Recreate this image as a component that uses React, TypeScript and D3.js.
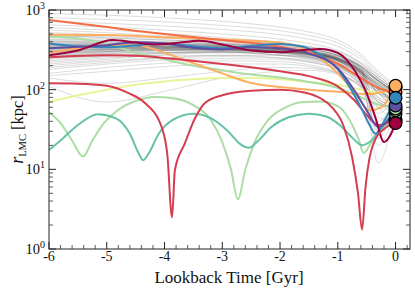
import * as d3 from "d3";
import React from "react";

// grey orbits sampled at these lookback times
const greyT = [-6, -5, -4, -3, -2, -1.5, -1, -0.6, -0.3, 0];
const greyR: number[][] = [
  [480, 450, 420, 390, 350, 320, 270, 200, 140, 95],
  [420, 410, 390, 360, 320, 290, 240, 180, 130, 90],
  [380, 370, 360, 340, 300, 270, 220, 160, 115, 85],
  [350, 360, 350, 330, 300, 275, 230, 170, 120, 88],
  [320, 340, 340, 320, 290, 260, 215, 155, 110, 80],
  [300, 320, 330, 320, 300, 270, 225, 165, 115, 82],
  [280, 300, 320, 320, 290, 255, 200, 140, 95, 75],
  [260, 290, 310, 300, 270, 240, 190, 130, 90, 72],
  [240, 270, 290, 290, 270, 245, 200, 145, 100, 78],
  [220, 250, 270, 270, 250, 225, 180, 120, 80, 70],
  [200, 230, 250, 260, 250, 230, 190, 135, 95, 75],
  [180, 210, 235, 245, 240, 220, 180, 120, 75, 65],
  [160, 190, 215, 230, 225, 205, 165, 110, 70, 60],
  [150, 170, 195, 210, 210, 195, 160, 105, 60, 55],
  [520, 490, 450, 410, 360, 325, 270, 195, 130, 92],
  [560, 520, 470, 420, 370, 330, 270, 190, 125, 90],
  [600, 560, 510, 450, 390, 345, 280, 200, 130, 95],
  [650, 610, 560, 500, 430, 380, 310, 215, 140, 100],
  [720, 680, 630, 570, 490, 430, 350, 240, 150, 105],
  [800, 760, 710, 640, 550, 480, 385, 260, 160, 110],
  [900, 860, 800, 720, 610, 530, 420, 280, 170, 115],
  [450, 440, 420, 400, 370, 340, 290, 210, 140, 95],
  [400, 400, 395, 380, 350, 320, 270, 195, 130, 90],
  [360, 380, 390, 375, 340, 305, 250, 175, 115, 85],
  [340, 350, 370, 365, 335, 300, 245, 170, 110, 80],
  [310, 330, 350, 350, 325, 295, 240, 165, 100, 70],
  [290, 315, 340, 345, 320, 290, 235, 160, 90, 60],
  [270, 300, 330, 340, 320, 290, 240, 170, 105, 72],
  [250, 280, 310, 325, 315, 290, 240, 170, 100, 68],
  [230, 260, 290, 310, 305, 280, 230, 160, 90, 62],
  [330, 345, 355, 345, 315, 285, 230, 150, 80, 50],
  [370, 365, 360, 350, 320, 290, 230, 140, 60, 45],
  [300, 310, 320, 315, 290, 260, 200, 120, 45, 40],
  [270, 285, 295, 295, 275, 250, 195, 110, 35, 55],
  [400, 385, 370, 355, 330, 300, 245, 160, 70, 60],
  [430, 420, 400, 375, 340, 305, 250, 170, 90, 75],
  [190, 220, 250, 270, 270, 255, 215, 150, 95, 70],
  [210, 240, 275, 295, 295, 275, 230, 160, 100, 75],
  [140, 120, 140, 170, 190, 185, 160, 115, 75, 60],
  [110, 70, 95, 140, 170, 175, 155, 110, 70, 58],
  [340, 350, 345, 330, 310, 290, 250, 180, 25, 70],
  [310, 320, 325, 315, 300, 280, 240, 160, 12, 65],
  [360, 355, 345, 330, 305, 280, 235, 150, 30, 80],
  [285, 300, 310, 305, 290, 265, 215, 130, 20, 60],
  [390, 380, 370, 355, 330, 305, 260, 190, 130, 92],
  [345, 340, 335, 325, 305, 285, 245, 180, 125, 90],
  [330, 335, 340, 335, 315, 290, 245, 175, 118, 86],
  [375, 375, 370, 355, 325, 300, 255, 185, 128, 94],
  [315, 320, 325, 320, 305, 285, 245, 178, 120, 88],
  [295, 305, 315, 315, 300, 280, 235, 165, 110, 84],
  [410, 395, 380, 365, 335, 310, 265, 195, 135, 96],
  [355, 350, 345, 340, 320, 300, 260, 190, 50, 85],
  [325, 330, 330, 325, 310, 290, 250, 175, 40, 75],
  [470, 460, 440, 415, 380, 350, 300, 220, 150, 100],
  [250, 265, 285, 300, 295, 275, 235, 170, 110, 80],
];

// coloured orbits: [lookback time, r]
const lineTomato: [number, number][] = [
  [-6, 750], [-5, 610], [-4.43, 540], [-4, 500], [-3, 420], [-2, 345], [-1.5, 290], [-1, 210],
  [-0.6, 140], [-0.3, 105], [0, 92],
];
const lineOrangeTop: [number, number][] = [
  [-6, 490], [-5, 485], [-4, 455], [-3, 425], [-2, 390], [-1.5, 300], [-1, 160], [-0.7, 90],
  [-0.45, 55], [-0.25, 60], [0, 112],
];
const lineOrangeDown: [number, number][] = [
  [-6, 290], [-5.5, 330], [-5, 360], [-4.5, 370], [-4.25, 334], [-4, 290], [-3.5, 215],
  [-3, 160], [-2.5, 121], [-2, 108], [-1.5, 100], [-1, 94], [-0.5, 88], [-0.2, 95], [0, 108],
];
const lineYellow: [number, number][] = [
  [-6, 70], [-5.5, 85], [-5, 100], [-4.5, 115], [-4, 127], [-3.5, 135], [-3, 140], [-2.5, 140],
  [-2, 135], [-1.5, 125], [-1, 115], [-0.6, 100], [-0.3, 92], [0, 105],
];
const lineGreenBundle: [number, number][] = [
  [-6, 460], [-5.5, 440], [-5, 380], [-4.5, 290], [-4, 240], [-3.5, 200], [-3, 175],
  [-2.5, 155], [-2, 142], [-1.5, 125], [-1, 105], [-0.6, 80], [-0.3, 65], [0, 58],
];
const lineGreenOsc: [number, number][] = [
  [-6, 52], [-5.8, 38], [-5.6, 23], [-5.41, 14.5], [-5.25, 23], [-5.05, 38], [-4.8, 56],
  [-4.5, 72], [-4.17, 81], [-3.85, 78], [-3.5, 64], [-3.2, 42], [-3.0, 22], [-2.85, 10],
  [-2.73, 4.2], [-2.6, 10], [-2.45, 21], [-2.2, 42], [-1.9, 60], [-1.6, 70], [-1.3, 71],
  [-1.0, 62], [-0.8, 42], [-0.65, 25], [-0.55, 16], [-0.45, 20], [-0.3, 30], [-0.15, 42], [0, 55],
];
const lineTeal: [number, number][] = [
  [-6, 17.5], [-5.8, 23], [-5.5, 36], [-5.15, 49], [-4.85, 44], [-4.6, 28], [-4.45, 16],
  [-4.37, 13], [-4.27, 16], [-4.1, 28], [-3.85, 42], [-3.5, 50], [-3.2, 44], [-2.9, 30],
  [-2.7, 21], [-2.54, 18.6], [-2.4, 22], [-2.15, 34], [-1.85, 45], [-1.5, 50], [-1.2, 46],
  [-0.95, 35], [-0.75, 25], [-0.58, 20], [-0.45, 22], [-0.25, 32], [0, 50],
];
const lineCrimson: [number, number][] = [
  [-6, 120], [-5.5, 119], [-5, 112], [-4.63, 91], [-4.34, 68], [-4.05, 34], [-3.95, 15],
  [-3.87, 2.5], [-3.82, 9.8], [-3.65, 21], [-3.47, 44], [-3.3, 68], [-3, 85], [-2.5, 97],
  [-2, 100], [-1.6, 93], [-1.3, 78], [-1.1, 60], [-0.9, 35], [-0.75, 14], [-0.65, 5],
  [-0.58, 1.75], [-0.52, 6], [-0.45, 14], [-0.35, 24], [-0.2, 32], [0, 40],
];
const lineRed: [number, number][] = [
  [-6, 255], [-5, 270], [-4.4, 265], [-4, 250], [-3, 210], [-2, 170], [-1.5, 148], [-1, 110],
  [-0.7, 72], [-0.5, 48], [-0.3, 36], [0, 42],
];
const lineBlue: [number, number][] = [
  [-6, 380], [-5.5, 350], [-5, 340], [-4.5, 360], [-4, 380], [-3.5, 350], [-3, 330],
  [-2.5, 355], [-2, 375], [-1.6, 345], [-1.3, 270], [-1, 180], [-0.8, 110], [-0.6, 60],
  [-0.45, 36], [-0.35, 28], [-0.2, 40], [0, 79],
];
const linePurple: [number, number][] = [
  [-6, 330], [-5.5, 345], [-5, 360], [-4.5, 395], [-4, 380], [-3.5, 335], [-3, 320],
  [-2.5, 340], [-2, 330], [-1.5, 285], [-1, 185], [-0.7, 95], [-0.5, 55], [-0.3, 34],
  [-0.15, 40], [0, 63],
];
const lineMagenta: [number, number][] = [
  [-6, 270], [-5.5, 310], [-4.9, 420], [-4.5, 390], [-4.2, 370], [-3.8, 385], [-3.4, 410],
  [-3, 370], [-2.5, 310], [-2, 295], [-1.6, 315], [-1.3, 325], [-1, 290], [-0.7, 170],
  [-0.5, 90], [-0.35, 45], [-0.2, 22], [-0.1, 26], [0, 38],
];

const colouredLines = [
  { pts: lineYellow, color: "#e6f598" },
  { pts: lineGreenBundle, color: "#abdda4" },
  { pts: lineGreenOsc, color: "#abdda4" },
  { pts: lineTeal, color: "#66c2a5" },
  { pts: lineOrangeDown, color: "#fdae61" },
  { pts: lineOrangeTop, color: "#fdae61" },
  { pts: lineTomato, color: "#f46d43" },
  { pts: lineRed, color: "#d53e4f" },
  { pts: lineBlue, color: "#3288bd" },
  { pts: linePurple, color: "#5e4fa2" },
  { pts: lineMagenta, color: "#9e0142" },
  { pts: lineCrimson, color: "#d53e4f" },
];

// order in which the present-day markers are stacked
const markerOrder = [4, 0, 6, 5, 7, 11, 3, 2, 1, 9, 8, 10];

const xMajor = [-6, -5, -4, -3, -2, -1, 0];
const xLabels = ["-6", "-5", "-4", "-3", "-2", "-1", "0"];
const yMajor = [1, 10, 100, 1000];
const yExp = ["0", "1", "2", "3"];

const W = 415, H = 290;
const left = 49, right = 410, top = 10, bottom = 249;
const font = "'Liberation Serif', 'DejaVu Serif', serif";

export default function App() {
  const x = d3.scaleLinear().domain([-6, 0.25]).range([left, right]);
  const y = d3.scaleLog().domain([1, 1000]).range([bottom, top]);
  const line = d3.line<[number, number]>()
    .x((d) => x(d[0]))
    .y((d) => y(d[1]))
    .curve(d3.curveMonotoneX);

  const xMinor = d3.range(-6, 0.26, 0.2).filter((v) => Math.abs(v - Math.round(v)) > 1e-6);
  const yMinor = y.ticks().filter((v) => !yMajor.includes(v));

  return (
    <svg width={W} height={H} style={{ position: "absolute", left: 0, top: 0, background: "#fff" }}>
      <defs>
        <clipPath id="plot">
          <rect x={left} y={top} width={right - left} height={bottom - top} />
        </clipPath>
      </defs>
      <g clipPath="url(#plot)">
        {greyR.map((r, i) => (
          <path key={"g" + i}
            d={line(greyT.map((t, j) => [t, r[j]] as [number, number])) || ""}
            fill="none" stroke="#333" strokeOpacity={0.22} strokeWidth={0.8} />
        ))}
        {colouredLines.map((l, i) => (
          <path key={"c" + i} d={line(l.pts) || ""} fill="none" stroke={l.color} strokeWidth={2} />
        ))}
      </g>
      {markerOrder.map((i) => {
        const l = colouredLines[i];
        const last = l.pts[l.pts.length - 1];
        return (
          <circle key={"m" + i} cx={x(last[0])} cy={y(last[1])} r={6.3}
            fill={l.color} stroke="#000" strokeWidth={1.3} />
        );
      })}
      {/* frame and ticks */}
      <rect x={left} y={top} width={right - left} height={bottom - top} fill="none" stroke="#222" strokeWidth={1} />
      {xMajor.map((v) => (
        <g key={"xt" + v} stroke="#222" strokeWidth={1}>
          <line x1={x(v)} x2={x(v)} y1={bottom} y2={bottom - 7} />
          <line x1={x(v)} x2={x(v)} y1={top} y2={top + 7} />
        </g>
      ))}
      {xMinor.map((v, i) => (
        <g key={"xm" + i} stroke="#333" strokeWidth={0.8}>
          <line x1={x(v)} x2={x(v)} y1={bottom} y2={bottom - 4} />
          <line x1={x(v)} x2={x(v)} y1={top} y2={top + 4} />
        </g>
      ))}
      {yMajor.map((v) => (
        <g key={"yt" + v} stroke="#222" strokeWidth={1}>
          <line x1={left} x2={left + 7} y1={y(v)} y2={y(v)} />
          <line x1={right} x2={right - 7} y1={y(v)} y2={y(v)} />
        </g>
      ))}
      {yMinor.map((v, i) => (
        <g key={"ym" + i} stroke="#333" strokeWidth={0.8}>
          <line x1={left} x2={left + 4} y1={y(v)} y2={y(v)} />
          <line x1={right} x2={right - 4} y1={y(v)} y2={y(v)} />
        </g>
      ))}
      {xMajor.map((v, i) => (
        <text key={"xl" + v} x={x(v)} y={261} textAnchor="middle" fontFamily={font} fontSize={14} fill="#111">
          {xLabels[i]}
        </text>
      ))}
      {yMajor.map((v, i) => (
        <text key={"yl" + v} x={45} y={y(v) + 5} textAnchor="end" fontFamily={font} fontSize={14.5} fill="#111">
          10<tspan fontSize={10} dy={-6}>{yExp[i]}</tspan>
        </text>
      ))}
      <text x={229} y={283} textAnchor="middle" fontFamily={font} fontSize={17} fill="#111">
        Lookback Time [Gyr]
      </text>
      <text transform={`translate(23, ${(top + bottom) / 2}) rotate(-90)`} textAnchor="middle"
        fontFamily={font} fontSize={16.5} fill="#111">
        <tspan fontStyle="italic" fontSize={18}>r</tspan>
        <tspan fontSize={10.5} dy={3}>LMC</tspan>
        <tspan dy={-3}> [kpc]</tspan>
      </text>
    </svg>
  );
}
